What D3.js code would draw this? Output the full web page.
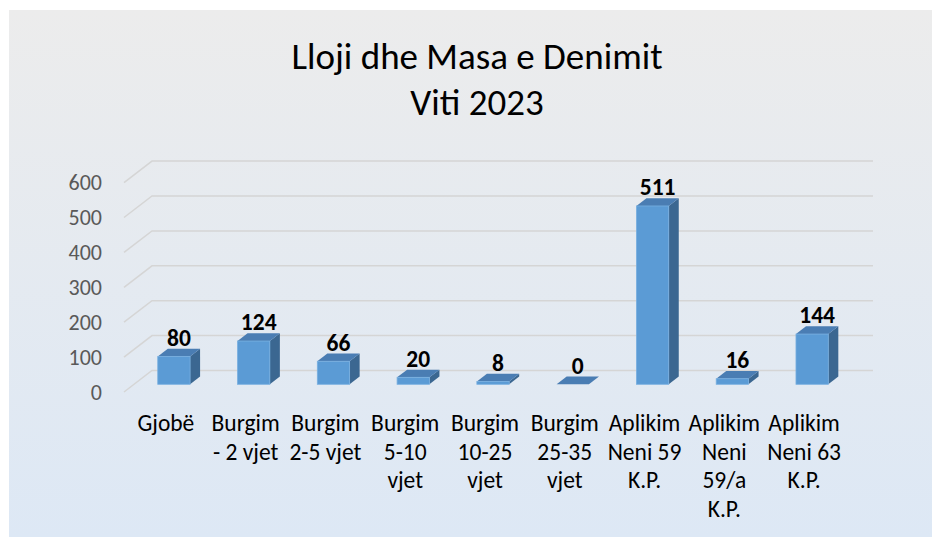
<!DOCTYPE html>
<html>
<head>
<meta charset="utf-8">
<script src="https://cdn.jsdelivr.net/npm/d3@7"></script>
<style>
  body { margin: 0; background: #fff; }
  svg text { font-family: Carlito, Lato, "Open Sans", sans-serif; }
</style>
</head>
<body>
<div id="graph"></div>
<script>
const categories = [
    ["Gjobë"],
    ["Burgim", "- 2 vjet"],
    ["Burgim", "2-5 vjet"],
    ["Burgim", "5-10", "vjet"],
    ["Burgim", "10-25", "vjet"],
    ["Burgim", "25-35", "vjet"],
    ["Aplikim", "Neni 59", "K.P."],
    ["Aplikim", "Neni", "59/a", "K.P."],
    ["Aplikim", "Neni 63", "K.P."]
];
const values = [80, 124, 66, 20, 8, 0, 511, 16, 144];
const yTicks = [0, 100, 200, 300, 400, 500, 600];
const titleLines = ["Lloji dhe Masa e Denimit", "Viti 2023"];

const fullwidth = 933;
const fullheight = 537;
const depthX = 28;     // oblique offset of the back wall
const depthY = -21.5;
const barFront = 0.358, barBack = 0.716;   // bar position in the depth

const svg = d3.select("#graph")
    .append("svg")
    .attr("width", fullwidth)
    .attr("height", fullheight);

// background gradient
const defs = svg.append("defs");
const bg = defs.append("linearGradient")
    .attr("id", "bg")
    .attr("x1", "0").attr("y1", "0")
    .attr("x2", "0").attr("y2", "1");
bg.append("stop").attr("offset", "0%").attr("stop-color", "#ececec");
bg.append("stop").attr("offset", "100%").attr("stop-color", "#dde8f5");

svg.append("rect")
    .attr("x", 9).attr("y", 10)
    .attr("width", 923).attr("height", 527)
    .style("fill", "url(#bg)");

// title
svg.append("g").selectAll("text")
    .data(titleLines)
    .enter().append("text")
    .attr("x", 477)
    .attr("y", (d, i) => 69 + i * 46)
    .attr("text-anchor", "middle")
    .style("font-size", "37px")
    .style("fill", "#000")
    .text(d => d);

// scales (front plane of the 3D box)
const x = d3.scaleBand()
    .domain(d3.range(categories.length))
    .range([124, 842]);
const y = d3.scaleLinear()
    .domain([0, 600])
    .range([392, 392 - 6 * 34.9]);

// gridlines: side wall diagonal + back wall line
const grid = svg.append("g").attr("class", "grid");
grid.selectAll("path")
    .data(yTicks)
    .enter().append("path")
    .attr("d", d => {
        const x0 = x.range()[0];
        const y0 = y(d);
        return "M" + x0 + "," + y0 +
            "L" + (x0 + depthX) + "," + (y0 + depthY) +
            "L" + (x.range()[1] + depthX + 3) + "," + (y0 + depthY);
    })
    .style("fill", "none")
    .style("stroke", "#d5d5d5")
    .style("stroke-width", 1.5);

// y axis labels
const yAxis = d3.axisLeft(y)
    .tickValues(yTicks)
    .tickSize(0)
    .tickPadding(22);
const yg = svg.append("g")
    .attr("transform", "translate(" + x.range()[0] + ",0)")
    .call(yAxis);
yg.select(".domain").remove();
yg.selectAll("text")
    .style("font-family", "Carlito, Lato, 'Open Sans', sans-serif")
    .style("font-size", "22px")
    .style("fill", "#595959");

// bars
const bw = x.bandwidth() * 0.405;
const fx = barFront * depthX, fy = barFront * depthY;
const bdx = (barBack - barFront) * depthX, bdy = (barBack - barFront) * depthY;

const bars = svg.append("g").selectAll("g")
    .data(values)
    .enter().append("g")
    .attr("class", "bar");

bars.each(function(d, i) {
    const g = d3.select(this);
    const left = x(i) + x.bandwidth() / 2 + fx - bw / 2;
    const right = left + bw;
    const bottom = y(0) + fy;
    const top = y(d) + fy;
    // side face
    g.append("path")
        .attr("d", "M" + right + "," + top + "L" + (right + bdx) + "," + (top + bdy) +
            "L" + (right + bdx) + "," + (bottom + bdy) + "L" + right + "," + bottom + "Z")
        .style("fill", "#3b6791");
    // top face
    g.append("path")
        .attr("d", "M" + left + "," + top + "L" + (left + bdx) + "," + (top + bdy) +
            "L" + (right + bdx) + "," + (top + bdy) + "L" + right + "," + top + "Z")
        .style("fill", "#4a7db3");
    // front face
    if (d > 0) {
        g.append("rect")
            .attr("x", left).attr("y", top)
            .attr("width", bw).attr("height", bottom - top)
            .style("fill", "#5b9bd5")
            .style("stroke", "#78afe0")
            .style("stroke-width", 0.8);
    }
    // data label
    g.append("text")
        .attr("x", left + bw / 2 + bdx / 2)
        .attr("y", top + bdy - 3)
        .attr("text-anchor", "middle")
        .style("font-size", "23.5px")
        .style("font-weight", "bold")
        .style("fill", "#000")
        .text(d);
});

// category labels
const cat = svg.append("g").selectAll("text")
    .data(categories)
    .enter().append("text")
    .attr("x", (d, i) => x(i) + x.bandwidth() / 2 + 2)
    .attr("y", 431)
    .attr("text-anchor", "middle")
    .style("font-size", "23.5px")
    .style("fill", "#000");
cat.selectAll("tspan")
    .data(d => d)
    .enter().append("tspan")
    .attr("x", function() { return d3.select(this.parentNode).attr("x"); })
    .attr("dy", (d, i) => i === 0 ? 0 : 28.7)
    .text(d => d);
</script>
</body>
</html>
